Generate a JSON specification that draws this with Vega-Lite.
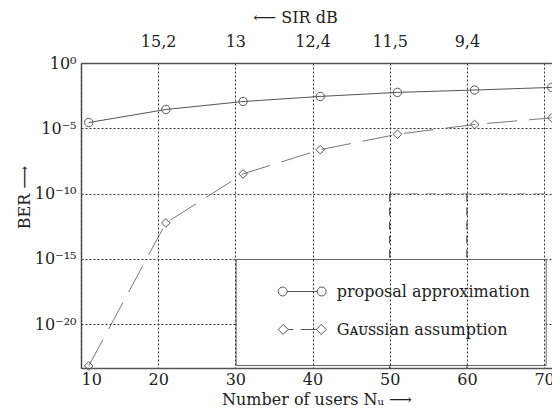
{
  "$schema": "https://vega.github.io/schema/vega-lite/v6.json",
  "width": 471,
  "height": 305,
  "autosize": "none",
  "padding": {"left": 81, "top": 63, "right": 0, "bottom": 40},
  "background": "white",
  "config": {
    "font": "DejaVu Serif",
    "view": {"stroke": null},
    "axis": {
      "labelFont": "DejaVu Serif",
      "titleFont": "DejaVu Serif",
      "labelColor": "#222",
      "titleColor": "#222",
      "labelFontSize": 16,
      "titleFontSize": 16,
      "titleFontWeight": "normal",
      "ticks": false,
      "domain": true,
      "domainColor": "#555",
      "domainWidth": 1.5,
      "gridColor": "#333",
      "gridDash": [2, 2],
      "gridOpacity": 1
    }
  },
  "datasets": {
    "ber": [
      {"users": 11, "ber": 2.75e-5, "series": "proposal approximation"},
      {"users": 21, "ber": 2.75e-4, "series": "proposal approximation"},
      {"users": 31, "ber": 1.12e-3, "series": "proposal approximation"},
      {"users": 41, "ber": 2.75e-3, "series": "proposal approximation"},
      {"users": 51, "ber": 5.6e-3, "series": "proposal approximation"},
      {"users": 61, "ber": 8.5e-3, "series": "proposal approximation"},
      {"users": 71, "ber": 1.35e-2, "series": "proposal approximation"},
      {"users": 11, "ber": 6.3e-24, "series": "Gᴀᴜꜱꜱian assumption"},
      {"users": 21, "ber": 5.6e-13, "series": "Gᴀᴜꜱꜱian assumption"},
      {"users": 31, "ber": 3.2e-9, "series": "Gᴀᴜꜱꜱian assumption"},
      {"users": 41, "ber": 2.3e-7, "series": "Gᴀᴜꜱꜱian assumption"},
      {"users": 51, "ber": 3.5e-6, "series": "Gᴀᴜꜱꜱian assumption"},
      {"users": 61, "ber": 1.95e-5, "series": "Gᴀᴜꜱꜱian assumption"},
      {"users": 71, "ber": 6.3e-5, "series": "Gᴀᴜꜱꜱian assumption"}
    ],
    "target": [
      {"users": 50, "ber": 1e-10},
      {"users": 60, "ber": 1e-10}
    ]
  },
  "layer": [
    {
      "data": {"name": "target"},
      "mark": {"type": "rule", "color": "#333", "strokeDash": [8, 6], "strokeWidth": 1},
      "encoding": {
        "x": {"field": "users", "type": "quantitative", "scale": {"domain": [10, 71.03], "nice": false, "zero": false}, "axis": null},
        "y": {
          "field": "ber", "type": "quantitative",
          "scale": {"type": "log", "domain": [4.37e-24, 1], "nice": false},
          "axis": {
            "values": [1e-20, 1e-15, 1e-10, 1e-5, 1], "grid": true, "labelPadding": 5,
            "labelExpr": "datum.value >= 0.5 ? '10⁰' : datum.value >= 1e-6 ? '10⁻⁵' : datum.value >= 1e-11 ? '10⁻¹⁰' : datum.value >= 1e-16 ? '10⁻¹⁵' : '10⁻²⁰'",
            "title": "BER ⟶", "titlePadding": 2, "titleY": 134
          }
        },
        "y2": {"datum": 4.37e-24}
      }
    },
    {
      "data": {"name": "target"},
      "transform": [{"filter": "datum.users == 50"}],
      "mark": {"type": "rule", "color": "#aaa", "strokeDash": [10, 8], "strokeWidth": 1},
      "encoding": {
        "x": {"field": "users", "type": "quantitative", "axis": null},
        "x2": {"datum": 71.03},
        "y": {"field": "ber", "type": "quantitative"}
      }
    },
    {
      "data": {"name": "ber"},
      "transform": [{"filter": "datum.series == 'proposal approximation'"}],
      "mark": {"type": "line", "color": "#555", "strokeWidth": 1, "clip": false},
      "encoding": {
        "x": {
          "field": "users", "type": "quantitative",
          "axis": {
            "orient": "bottom", "values": [10, 20, 30, 40, 50, 60, 70], "grid": true,
            "domain": true, "domainColor": "#555", "domainWidth": 1.5, "zindex": 1,
            "labelPadding": 3, "title": "Number of users Nᵤ ⟶", "titlePadding": 4
          }
        },
        "y": {"field": "ber", "type": "quantitative"}
      }
    },
    {
      "data": {"name": "ber"},
      "transform": [{"filter": "datum.series != 'proposal approximation'"}],
      "mark": {"type": "line", "color": "#777", "strokeWidth": 1, "strokeDash": [30, 12], "clip": false},
      "encoding": {
        "x": {"field": "users", "type": "quantitative", "axis": null},
        "y": {"field": "ber", "type": "quantitative"}
      }
    },
    {
      "data": {"name": "ber"},
      "transform": [{"filter": "datum.series == 'proposal approximation'"}],
      "mark": {"type": "point", "shape": "circle", "filled": false, "color": "#555", "opacity": 1, "strokeWidth": 1, "size": 70, "clip": false},
      "encoding": {
        "x": {
          "field": "users", "type": "quantitative",
          "axis": {
            "orient": "top", "values": [20, 30, 40, 50, 60], "grid": false, "domain": true,
            "labelPadding": 14, "title": "⟵ SIR  dB", "titlePadding": 8, "titleX": 214,
            "labelExpr": "datum.value == 20 ? '15,2' : datum.value == 30 ? '13' : datum.value == 40 ? '12,4' : datum.value == 50 ? '11,5' : '9,4'"
          }
        },
        "y": {"field": "ber", "type": "quantitative"}
      }
    },
    {
      "data": {"name": "ber"},
      "transform": [{"filter": "datum.series != 'proposal approximation'"}],
      "mark": {"type": "point", "shape": "diamond", "filled": false, "color": "#555", "opacity": 1, "strokeWidth": 1, "size": 75, "clip": false},
      "encoding": {
        "x": {"field": "users", "type": "quantitative", "axis": null},
        "y": {"field": "ber", "type": "quantitative"}
      }
    },
    {
      "data": {"name": "ber"},
      "mark": {"type": "point", "filled": false, "color": "#555", "opacity": 1, "strokeWidth": 1, "size": 0},
      "encoding": {
        "x": {"field": "users", "type": "quantitative", "axis": null},
        "y": {"field": "ber", "type": "quantitative"},
        "shape": {
          "field": "series", "type": "nominal",
          "scale": {
            "domain": ["proposal approximation", "Gᴀᴜꜱꜱian assumption"],
            "range": [
              "M0.625,0 A0.28,0.28 0 1,1 1.185,0 A0.28,0.28 0 1,1 0.625,0 Z M1.185,0 L3.065,0 M3.065,0 A0.28,0.28 0 1,1 3.625,0 A0.28,0.28 0 1,1 3.065,0 Z",
              "M0.625,0 L0.935,-0.31 L1.245,0 L0.935,0.31 Z M1.245,0 L1.56,0 M2.04,0 L3.005,0 M3.005,0 L3.315,-0.31 L3.625,0 L3.315,0.31 Z"
            ]
          },
          "legend": {
            "orient": "none", "legendX": 154.7, "legendY": 196, "title": " ",
            "titleOrient": "bottom", "titleFontSize": 12, "titlePadding": 0,
            "padding": 16, "strokeColor": "#666", "fillColor": "white", "cornerRadius": 0,
            "symbolSize": 1024, "symbolStrokeWidth": 1, "symbolStrokeColor": "#555", "symbolFillColor": "transparent", "symbolOpacity": 1,
            "labelFont": "DejaVu Serif", "labelFontSize": 16, "labelColor": "#222", "labelOffset": 52, "labelLimit": 400, "rowPadding": 13
          }
        }
      }
    }
  ],
  "resolve": {"axis": {"x": "independent"}}
}
